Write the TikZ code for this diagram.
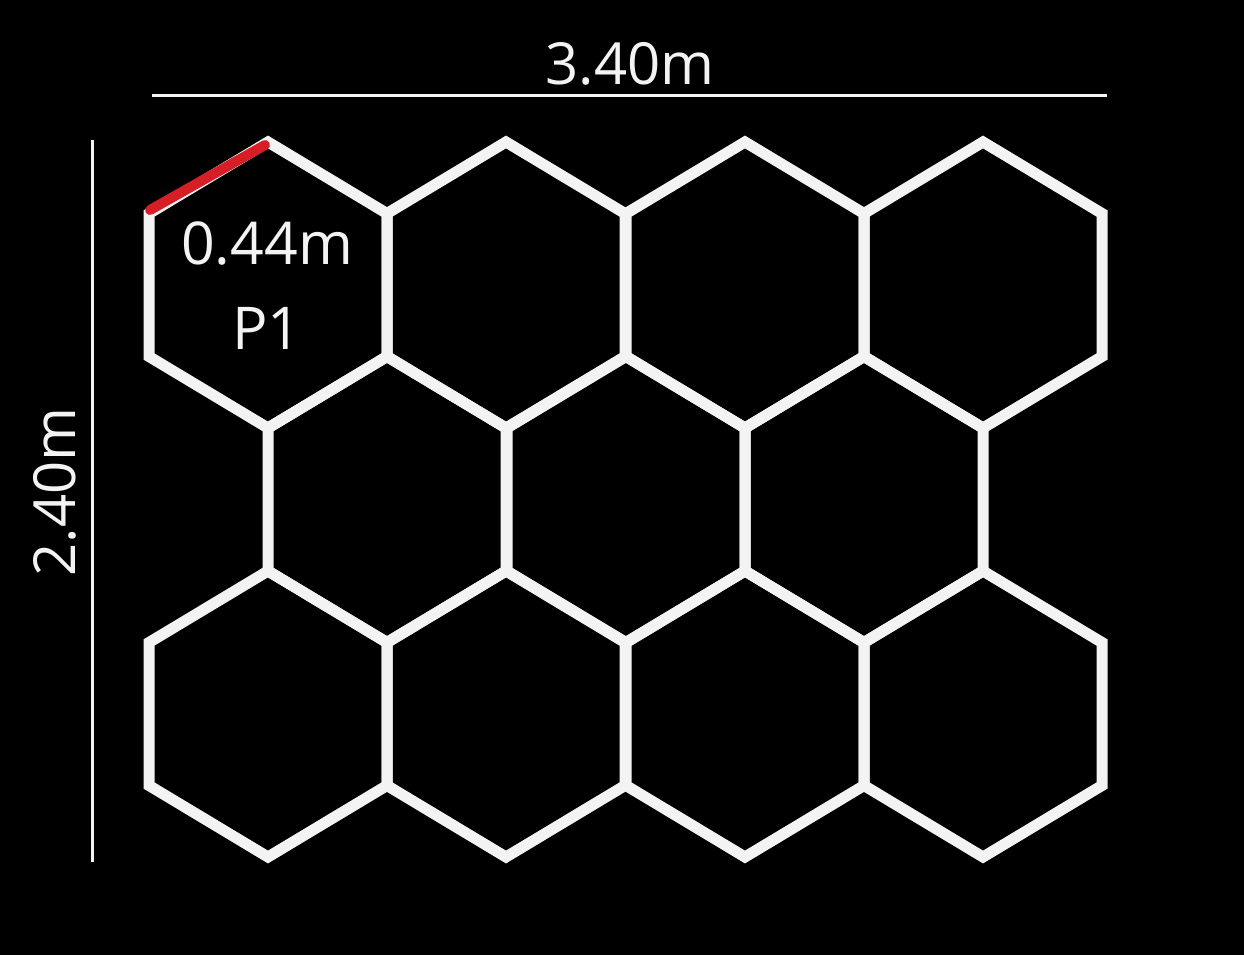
\documentclass[tikz,border=0pt]{standalone}
\usepackage{fontspec}
\setmainfont{Open Sans}
\definecolor{linecol}{RGB}{243,243,243}
\definecolor{redcol}{RGB}{214,30,38}
\begin{document}
\begin{tikzpicture}[x=1pt,y=-1pt,
  hexline/.style={draw=linecol, line width=11pt, line join=miter},
  dimline/.style={draw=linecol, line width=3pt},
  redline/.style={draw=redcol, line width=10pt, line cap=round},
  lbl/.style={text=linecol, inner sep=0pt, anchor=base, font=\fontsize{58}{68}\selectfont}]
\fill[black] (0,0) rectangle (1244,955);
\useasboundingbox (0,0) rectangle (1244,955);
% hexagons: centre x, centre y  (R = 143, half width = 119)
\foreach \cx/\cy in {268/285,506/285,745/285,983/285,
                     387/499.5,626/499.5,864/499.5,
                     268/714,506/714,745/714,983/714}{
  \draw[hexline] (\cx,\cy-143) -- (\cx+119,\cy-71.5) -- (\cx+119,\cy+71.5)
     -- (\cx,\cy+143) -- (\cx-119,\cy+71.5) -- (\cx-119,\cy-71.5) -- cycle;
}
% red edge
\coordinate (r1) at (150,210);
\coordinate (r2) at (265,145);
\draw[redline] (r1) -- (r2);
% dimension lines
\coordinate (h1) at (152,96);
\coordinate (h2) at (1107,96);
\coordinate (v1) at (92,140);
\coordinate (v2) at (92,862);
\draw[dimline] (h1) -- (h2);
\draw[dimline] (v1) -- (v2);
% labels
\node[lbl] (w) at (630,85) {3.40m};
\node[lbl, rotate=90] (h) at (75,492) {2.40m};
\node[lbl, font=\fontsize{59}{68}\selectfont] (len) at (267,264) {0.44m};
\node[lbl, font=\fontsize{59}{68}\selectfont] (p1) at (267,349) {P1};
\end{tikzpicture}
\end{document}
